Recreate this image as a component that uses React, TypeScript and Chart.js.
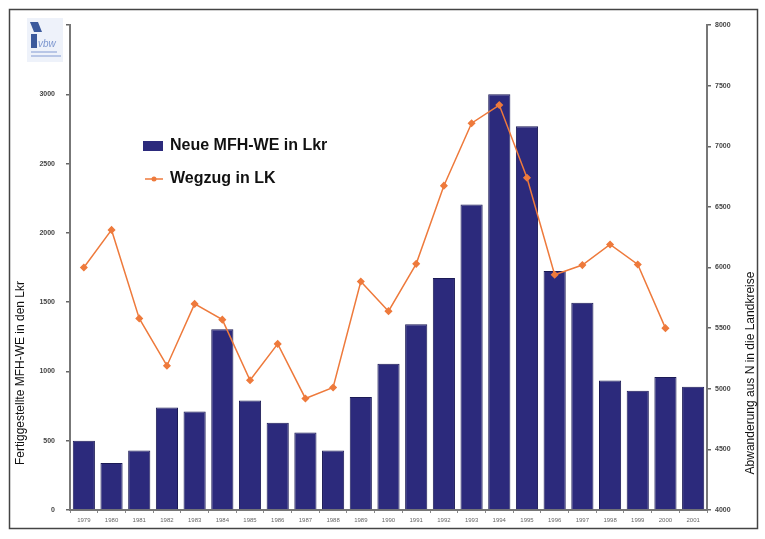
import React, { useEffect, useRef } from "react";
import { Chart, registerables } from "chart.js";

Chart.register(...registerables);

const years = ["1979","1980","1981","1982","1983","1984","1985","1986","1987","1988","1989","1990","1991","1992","1993","1994","1995","1996","1997","1998","1999","2000","2001"];
const neueWE = [500,340,430,740,710,1305,790,630,560,430,815,1055,1340,1675,2205,3000,2770,1725,1495,935,860,960,890];
const wegzug = [6000,6310,5580,5190,5700,5570,5070,5370,4920,5010,5885,5640,6030,6675,7190,7340,6740,5940,6020,6190,6025,5500,null];

const barLabel = "Neue MFH-WE in Lkr";
const lineLabel = "Wegzug in LK";
const leftTitle = "Fertiggestellte MFH-WE in den Lkr";
const rightTitle = "Abwanderung aus N in die Landkreise";

const BAR_COLOR = "#2c2a7c";
const LINE_COLOR = "#ee7a3c";
const FONT = "'Liberation Sans', Arial, sans-serif";

const decorPlugin = {
  id: "decor",
  afterDraw(chart: any) {
    const ctx = chart.ctx;
    ctx.save();
    // frame
    ctx.strokeStyle = "#444";
    ctx.lineWidth = 1.5;
    ctx.strokeRect(9.5, 9.5, 748, 519);

    // logo
    ctx.fillStyle = "#eef2fa";
    ctx.fillRect(27, 18, 36, 44);
    ctx.fillStyle = "#3c5a9c";
    ctx.beginPath();
    ctx.moveTo(30, 22);
    ctx.lineTo(38, 22);
    ctx.lineTo(42, 32);
    ctx.lineTo(34, 32);
    ctx.closePath();
    ctx.fill();
    ctx.fillRect(31, 34, 6, 14);
    ctx.fillStyle = "#7d97cf";
    ctx.font = "italic 10px " + FONT;
    ctx.textAlign = "left";
    ctx.textBaseline = "alphabetic";
    ctx.fillText("vbw", 38, 47);
    ctx.fillStyle = "#b8c6e6";
    ctx.fillRect(31, 51, 26, 2);
    ctx.fillRect(31, 55, 30, 2);

    // axis titles
    ctx.fillStyle = "#111";
    ctx.font = "12px " + FONT;
    ctx.textAlign = "center";
    ctx.textBaseline = "middle";
    ctx.save();
    ctx.translate(21, 373);
    ctx.rotate(-Math.PI / 2);
    ctx.fillText(leftTitle, 0, 0);
    ctx.restore();
    ctx.save();
    ctx.translate(751, 373);
    ctx.rotate(-Math.PI / 2);
    ctx.fillText(rightTitle, 0, 0);
    ctx.restore();

    // legend
    ctx.fillStyle = BAR_COLOR;
    ctx.fillRect(143, 141, 20, 10);
    ctx.strokeStyle = LINE_COLOR;
    ctx.lineWidth = 1.5;
    ctx.beginPath();
    ctx.moveTo(145, 179);
    ctx.lineTo(163, 179);
    ctx.stroke();
    ctx.fillStyle = LINE_COLOR;
    ctx.beginPath();
    ctx.arc(154, 179, 2.5, 0, Math.PI * 2);
    ctx.fill();
    ctx.fillStyle = "#111";
    ctx.font = "bold 16px " + FONT;
    ctx.textAlign = "left";
    ctx.textBaseline = "middle";
    ctx.fillText(barLabel, 170, 146);
    ctx.fillText(lineLabel, 170, 179);
    ctx.restore();
  },
};

export default function App() {
  const ref = useRef<HTMLCanvasElement | null>(null);
  useEffect(() => {
    document.body.style.margin = "0";
    const canvas = ref.current!;
    const chart = new Chart(canvas, {
      type: "bar",
      data: {
        labels: years,
        datasets: [
          {
            type: "line",
            label: lineLabel,
            data: wegzug as any,
            yAxisID: "y1",
            borderColor: LINE_COLOR,
            backgroundColor: LINE_COLOR,
            borderWidth: 1.5,
            pointStyle: "rectRot",
            pointRadius: 3,
            pointBackgroundColor: LINE_COLOR,
            pointBorderColor: LINE_COLOR,
            tension: 0,
            spanGaps: false,
            order: 1,
          },
          {
            type: "bar",
            label: barLabel,
            data: neueWE,
            yAxisID: "y",
            backgroundColor: BAR_COLOR,
            borderColor: "#1b1a55",
            borderWidth: 1,
            barPercentage: 0.8,
            categoryPercentage: 1,
            order: 2,
          },
        ],
      },
      options: {
        responsive: false,
        animation: false,
        layout: { padding: { left: 0, right: 0, top: 25, bottom: 9 } },
        plugins: {
          legend: { display: false },
          tooltip: { enabled: false },
          title: { display: false },
        },
        scales: {
          x: {
            offset: true,
            grid: { display: true, drawOnChartArea: false, offset: true, tickLength: 3, color: "#888" },
            border: { color: "#777", width: 2 },
            ticks: { font: { size: 6, family: FONT }, color: "#666", padding: 4, maxRotation: 0, autoSkip: false },
            afterFit(scale: any) { scale.height = 20; },
          },
          y: {
            position: "left",
            min: 0,
            max: 3500,
            grid: { display: true, drawOnChartArea: false, tickLength: 4, color: "#666", lineWidth: 1.5 },
            border: { color: "#777", width: 2 },
            ticks: {
              stepSize: 500,
              font: { size: 7, family: FONT, weight: "bold" },
              color: "#444",
              padding: 11,
              callback: (v: any) => (v === 3500 ? "" : String(v)),
            },
            afterFit(scale: any) { scale.width = 70; },
          },
          y1: {
            position: "right",
            min: 4000,
            max: 8000,
            grid: { display: true, drawOnChartArea: false, tickLength: 4, color: "#666", lineWidth: 1.5 },
            border: { color: "#777", width: 2 },
            ticks: {
              stepSize: 500,
              font: { size: 7, family: FONT, weight: "bold" },
              color: "#444",
              padding: 4,
              callback: (v: any) => String(v),
            },
            afterFit(scale: any) { scale.width = 58; },
          },
        },
      } as any,
      plugins: [decorPlugin],
    });
    return () => chart.destroy();
  }, []);
  return <canvas ref={ref} width={765} height={539} style={{ display: "block", width: 765, height: 539 }} />;
}
